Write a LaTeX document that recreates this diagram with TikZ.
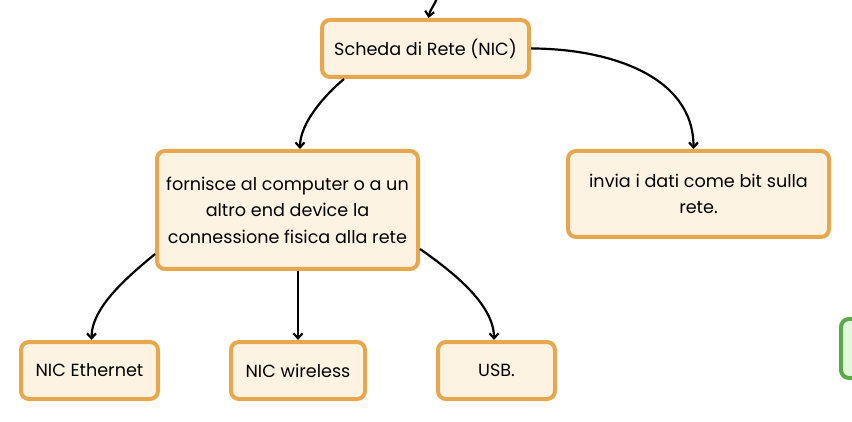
\documentclass[tikz,border=0pt]{standalone}
\usepackage{fontspec}
\setmainfont{Poppins}
\usetikzlibrary{arrows.meta}
\definecolor{boxborder}{HTML}{E6A74E}
\definecolor{boxfill}{HTML}{FDF3E3}
\definecolor{gborder}{HTML}{5AAA4A}
\definecolor{gfill}{HTML}{E4F8DE}
\begin{document}
\begin{tikzpicture}[x=1pt,y=-1pt,
  box/.style={draw=boxborder, fill=boxfill, line width=4pt, rounded corners=8pt,
    inner sep=0pt, align=center, font=\fontsize{17.6}{26.5}\selectfont},
  gbox/.style={draw=gborder, fill=gfill, line width=4pt, rounded corners=8pt, inner sep=0pt},
  link/.style={-{Straight Barb[length=5pt,width=9pt]}, line width=2.2pt, black}]
\useasboundingbox (0,0) rectangle (852,422);
\clip (0,0) rectangle (852,422);
\node[box, minimum width=207pt, minimum height=57pt] (scheda) at (425.5,48.5) {Scheda di Rete (NIC)};
\node[box, minimum width=261pt, minimum height=118pt] (fornisce) at (287.5,210) {fornisce al computer o a un\\altro end device la\\connessione fisica alla rete};
\node[box, minimum width=261pt, minimum height=86pt] (invia) at (698.5,194) {invia i dati come bit sulla\\rete.};
\node[box, minimum width=137pt, minimum height=57pt] (eth) at (89.5,370.5) {NIC Ethernet};
\node[box, minimum width=134pt, minimum height=57pt] (wl) at (298,370.5) {NIC wireless};
\node[box, minimum width=117pt, minimum height=57pt] (usb) at (496.5,370.5) {USB.};
\node[gbox, minimum width=120pt, minimum height=59pt] (green) at (901,348.5) {};
\coordinate (topin) at (437,-2);
\draw[link] (topin) to[out=-110,in=80] ([xshift=3pt]scheda.north);
\draw[link] ([xshift=24pt]scheda.south west) to[out=-140,in=90,looseness=0.8] ([xshift=12.5pt]fornisce.north);
\draw[link] (scheda.east) to[out=0,in=90] ([xshift=-5pt]invia.north);
\draw[link] ([yshift=-44pt]fornisce.west) to[out=-140,in=90,looseness=0.8] ([xshift=2pt]eth.north);
\draw[link] ([xshift=10.5pt]fornisce.south) -- (wl.north);
\draw[link] ([yshift=-39pt]fornisce.east) to[out=-35,in=90,looseness=0.8] ([xshift=-2.5pt]usb.north);
\end{tikzpicture}
\end{document}
